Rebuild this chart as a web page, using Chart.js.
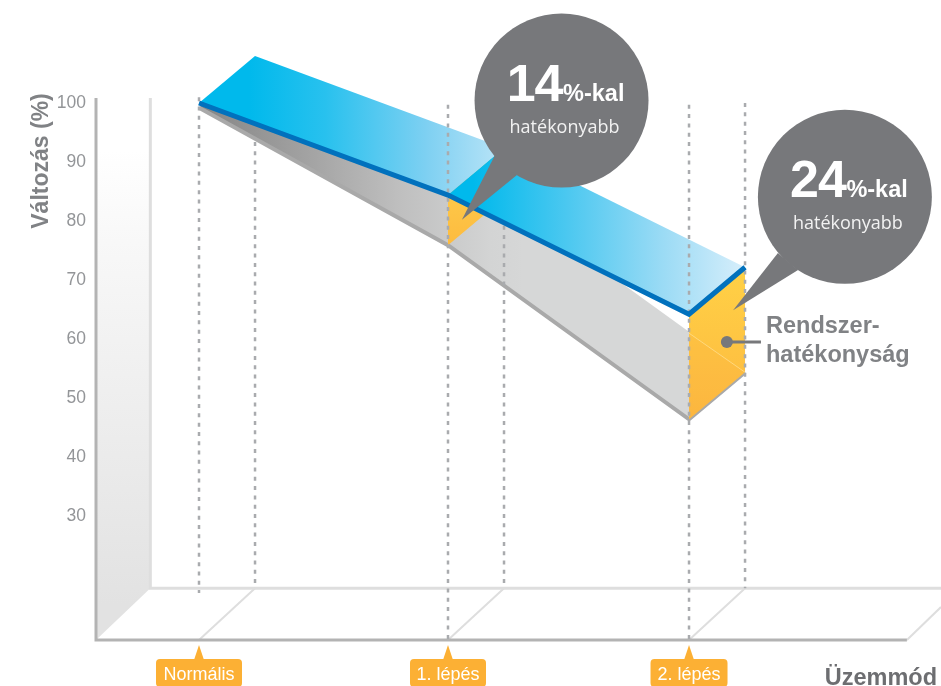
<!DOCTYPE html>
<html lang="hu">
<head>
<meta charset="utf-8">
<title>Rendszerhatékonyság</title>
<script src="https://cdn.jsdelivr.net/npm/chart.js@4/dist/chart.umd.min.js"></script>
<style>
  html, body { margin: 0; padding: 0; background: #fff; }
  canvas { display: block; }
</style>
</head>
<body>
<canvas id="chart" width="941" height="686"></canvas>
<script>
// Operating modes along the horizontal axis
const modeLabels = ['Normális', '1. lépés', '2. lépés'];
const modePos = [0, 1, 1.968];

// Front edges of the two ribbons (%)
const upperSeries = [100, 84.4, 64.2];
const lowerSeries = [99.2, 75.9, 46.4];

// Vertical axis
const yTickValues = [100, 90, 80, 70, 60, 50, 40, 30];

// Oblique depth of the pseudo-3D box, in axis units
const depthX = 0.225;
const depthY = 7.97;

// Box limits, in axis units
const xLeft = -0.4137;
const xFloorEnd = 2.843;
const xMax = 2.98;
const yFloor = 9;
const yMax = 117.46;
const yWallTop = 100.85;
const yGuideTop = 99.7;

// Callouts
const calloutCentres = [{ x: 1.456, y: 100.42, r: 87 }, { x: 2.594, y: 84.1, r: 87 }];
const calloutTails = [
  [{ x: 1.056, y: 80.2 }, { x: 1.189, y: 91.2 }, { x: 1.277, y: 87.8 }],
  [{ x: 2.145, y: 64.9 }, { x: 2.325, y: 74.6 }, { x: 2.406, y: 71.7 }]
];
const calloutNumbers = ['14', '24'];
const calloutSuffix = '%-kal';
const calloutNote = 'hatékonyabb';
const efficiencyPointer = [{ x: 2.12, y: 59.5 }, { x: 2.257, y: 59.5 }];

// Where the lower ribbon's far edge crosses the second panel
const panelCrease = 61.0;

const front = (s, i) => ({ x: modePos[i], y: s[i] });
const back = (s, i) => ({ x: modePos[i] + depthX, y: s[i] + depthY });

// Gradient helpers working in scale coordinates
function hGrad(ctx, from, to, stops) {
  const { chart } = ctx;
  if (!chart.chartArea) return stops[0][1];
  const sx = chart.scales.x;
  const g = chart.ctx.createLinearGradient(sx.getPixelForValue(from), 0, sx.getPixelForValue(to), 0);
  stops.forEach(s => g.addColorStop(s[0], s[1]));
  return g;
}
function vGrad(ctx, from, to, stops) {
  const { chart } = ctx;
  if (!chart.chartArea) return stops[0][1];
  const sy = chart.scales.y;
  const g = chart.ctx.createLinearGradient(0, sy.getPixelForValue(from), 0, sy.getPixelForValue(to));
  stops.forEach(s => g.addColorStop(s[0], s[1]));
  return g;
}

const datasets = [];
function polygon(data, backgroundColor) {
  datasets.push({ type: 'scatter', data, showLine: true, fill: 'shape', backgroundColor,
    borderWidth: 0, borderColor: 'transparent', pointRadius: 0, clip: false });
}
function stroke(data, borderColor, borderWidth, extra) {
  datasets.push(Object.assign({ type: 'scatter', data, showLine: true, fill: false, borderColor, borderWidth,
    pointRadius: 0, clip: false, borderJoinStyle: 'miter', borderCapStyle: 'butt' }, extra || {}));
}
function guide(x, bottom, top) {
  stroke([{ x, y: top }, { x, y: bottom }], '#a9abae', 2.5, { borderDash: [4, 5.3] });
}

const xBack = xLeft + depthX * 0.97;
const yBackFloor = yFloor + depthY * 1.1;

// Side wall
polygon([{ x: xLeft, y: yWallTop }, { x: xBack, y: yWallTop }, { x: xBack, y: yBackFloor }, { x: xLeft, y: yFloor }],
  ctx => vGrad(ctx, 92, 15, [[0, '#ffffff'], [0.2, '#f8f8f8'], [1, '#e2e2e2']]));

// Box edges
stroke([{ x: xBack, y: yWallTop }, { x: xBack, y: yBackFloor }, { x: xMax, y: yBackFloor }], '#dedede', 3);
modePos.forEach(p => stroke([{ x: p, y: yFloor }, { x: p + depthX, y: yBackFloor }], '#dedede', 2));
stroke([{ x: xFloorEnd, y: yFloor }, { x: xMax, y: yFloor + depthY * 0.7 }], '#dedede', 2);
stroke([{ x: xLeft, y: yWallTop }, { x: xLeft, y: yFloor }, { x: xFloorEnd, y: yFloor }], '#b3b3b3', 3);

guide(depthX, yBackFloor, yGuideTop);

// Lower ribbon
polygon([front(lowerSeries, 0), front(lowerSeries, 1), front(lowerSeries, 2),
         back(lowerSeries, 2), back(lowerSeries, 1), back(lowerSeries, 0)],
  ctx => hGrad(ctx, 0, 1.3, [[0, '#858585'], [0.3, '#9f9f9f'], [0.62, '#bfbfbf'], [0.9, '#d3d4d4'], [1, '#d6d7d7']]));
stroke([front(lowerSeries, 0), front(lowerSeries, 1), front(lowerSeries, 2), back(lowerSeries, 2)], '#a9a9a9', 4);

// Yellow panel at the first step
polygon([front(upperSeries, 1), back(upperSeries, 1), back(lowerSeries, 1), front(lowerSeries, 1)],
  ctx => vGrad(ctx, 84, 76, [[0, '#fdc748'], [1, '#fdbb3f']]));

guide(modePos[1] + depthX, yBackFloor, yGuideTop);

// Upper ribbon, two segments
polygon([front(upperSeries, 0), back(upperSeries, 0), back(upperSeries, 1), front(upperSeries, 1)],
  ctx => hGrad(ctx, 0.2, 1.22, [[0, '#00b9ec'], [0.3, '#28c1ee'], [0.7, '#7ed0f2'], [1, '#b9e4f7']]));
polygon([front(upperSeries, 1), back(upperSeries, 1), back(upperSeries, 2), front(upperSeries, 2)],
  ctx => hGrad(ctx, 1.1, 2.19, [[0, '#00b9ec'], [0.35, '#4cc8f0'], [0.7, '#9bdbf5'], [1, '#d6eefb']]));

// Yellow panel at the second step
polygon([front(upperSeries, 2), back(upperSeries, 2), back(lowerSeries, 2), front(lowerSeries, 2)],
  ctx => vGrad(ctx, 72, 47, [[0, '#ffd146'], [1, '#fdb93f']]));
polygon([{ x: modePos[2], y: panelCrease }, back(lowerSeries, 2), front(lowerSeries, 2)], 'rgba(251,176,64,0.2)');
stroke([{ x: modePos[2], y: panelCrease }, back(lowerSeries, 2)], 'rgba(255,225,150,0.7)', 1);

// Dashed guides in front of the ribbons
guide(0, yFloor + depthY, 101);
guide(modePos[1], yFloor, yGuideTop);
guide(modePos[2], yFloor, yGuideTop);
guide(modePos[2] + depthX, yBackFloor, 100);

// Blue edge of the upper ribbon
stroke([front(upperSeries, 0), front(upperSeries, 1), front(upperSeries, 2), back(upperSeries, 2)], '#0171bd', 5);

// Callouts and the pointer next to the second panel
calloutTails.forEach(t => polygon(t, '#77787b'));
datasets.push({ type: 'bubble', data: calloutCentres, backgroundColor: '#77787b', borderWidth: 0, clip: false });
datasets.push({ type: 'scatter', data: efficiencyPointer, showLine: true, fill: false, borderColor: '#77787b', borderWidth: 3,
  pointRadius: [6, 0], pointBackgroundColor: '#77787b', pointBorderWidth: 0, clip: false });

// Later entries are painted on top
datasets.forEach((d, i) => { d.order = -i; });

const decorations = {
  id: 'decorations',
  beforeDraw(chart) {
    // Orange badges behind the mode labels
    const { ctx, scales: { x } } = chart;
    const widths = [86, 76, 77];
    ctx.save();
    ctx.fillStyle = '#fcb034';
    modeLabels.forEach((_, i) => {
      const c = x.getPixelForValue(modePos[i]);
      ctx.beginPath();
      ctx.roundRect(c - widths[i] / 2, 659, widths[i], 28, 4);
      ctx.fill();
      ctx.beginPath();
      ctx.moveTo(c, 645);
      ctx.lineTo(c + 5, 660);
      ctx.lineTo(c - 5, 660);
      ctx.closePath();
      ctx.fill();
    });
    ctx.restore();
  },
  afterDatasetsDraw(chart) {
    const { ctx, scales: { x, y } } = chart;
    ctx.save();
    ctx.textBaseline = 'alphabetic';

    // Callout text
    calloutCentres.forEach((c, i) => {
      const cx = x.getPixelForValue(c.x);
      const cy = y.getPixelForValue(c.y);
      ctx.fillStyle = '#ffffff';
      ctx.textAlign = 'right';
      ctx.letterSpacing = '-1px';
      ctx.font = 'bold 52px "Liberation Sans"';
      ctx.fillText(calloutNumbers[i], cx + 1, cy);
      ctx.letterSpacing = '0px';
      ctx.textAlign = 'left';
      ctx.font = 'bold 23.5px "Liberation Sans"';
      ctx.fillText(calloutSuffix, cx + 1.5, cy);
      ctx.fillStyle = '#f2f2f2';
      ctx.textAlign = 'center';
      ctx.font = '18px "Open Sans"';
      ctx.fillText(calloutNote, cx + 3, cy + 32);
    });

    // Panel caption
    ctx.fillStyle = '#808285';
    ctx.textAlign = 'left';
    ctx.font = 'bold 23.5px "Liberation Sans"';
    ctx.fillText('Rendszer-', 766, 333);
    ctx.fillText('hatékonyság', 766, 362);

    // Axis captions
    ctx.fillStyle = '#6d6e71';
    ctx.textAlign = 'right';
    ctx.fillText('Üzemmód', 937, 685);
    ctx.fillStyle = '#808285';
    ctx.font = 'bold 23px "Liberation Sans"';
    ctx.translate(48, 161);
    ctx.rotate(-Math.PI / 2);
    ctx.textAlign = 'center';
    ctx.fillText('Változás (%)', 0, 0);
    ctx.restore();
  }
};

new Chart(document.getElementById('chart'), {
  type: 'scatter',
  data: { datasets },
  plugins: [decorations],
  options: {
    responsive: false,
    animation: false,
    devicePixelRatio: 1,
    layout: { padding: 0, autoPadding: false },
    plugins: { legend: { display: false }, tooltip: { enabled: false }, title: { display: false } },
    scales: {
      x: {
        type: 'linear',
        min: xLeft,
        max: xMax,
        grid: { display: false, drawTicks: false },
        border: { display: false },
        afterBuildTicks(axis) { axis.ticks = modePos.map(value => ({ value })); },
        afterFit(axis) { axis.height = 46; axis.paddingLeft = 0; axis.paddingRight = 0; },
        ticks: {
          padding: 24,
          autoSkip: false,
          maxRotation: 0,
          color: '#ffffff',
          font: { family: '"Liberation Sans"', size: 18 },
          callback: (v, i) => modeLabels[i]
        }
      },
      y: {
        type: 'linear',
        min: yFloor,
        max: yMax,
        grid: { display: false, drawTicks: false },
        border: { display: false },
        afterBuildTicks(axis) { axis.ticks = yTickValues.map(value => ({ value })); },
        afterFit(axis) { axis.width = 96; axis.paddingTop = 0; axis.paddingBottom = 0; },
        ticks: {
          padding: 10,
          color: '#939598',
          font: { family: '"Liberation Sans"', size: 17.5 },
          callback: v => String(v)
        }
      }
    }
  }
});
</script>
</body>
</html>
